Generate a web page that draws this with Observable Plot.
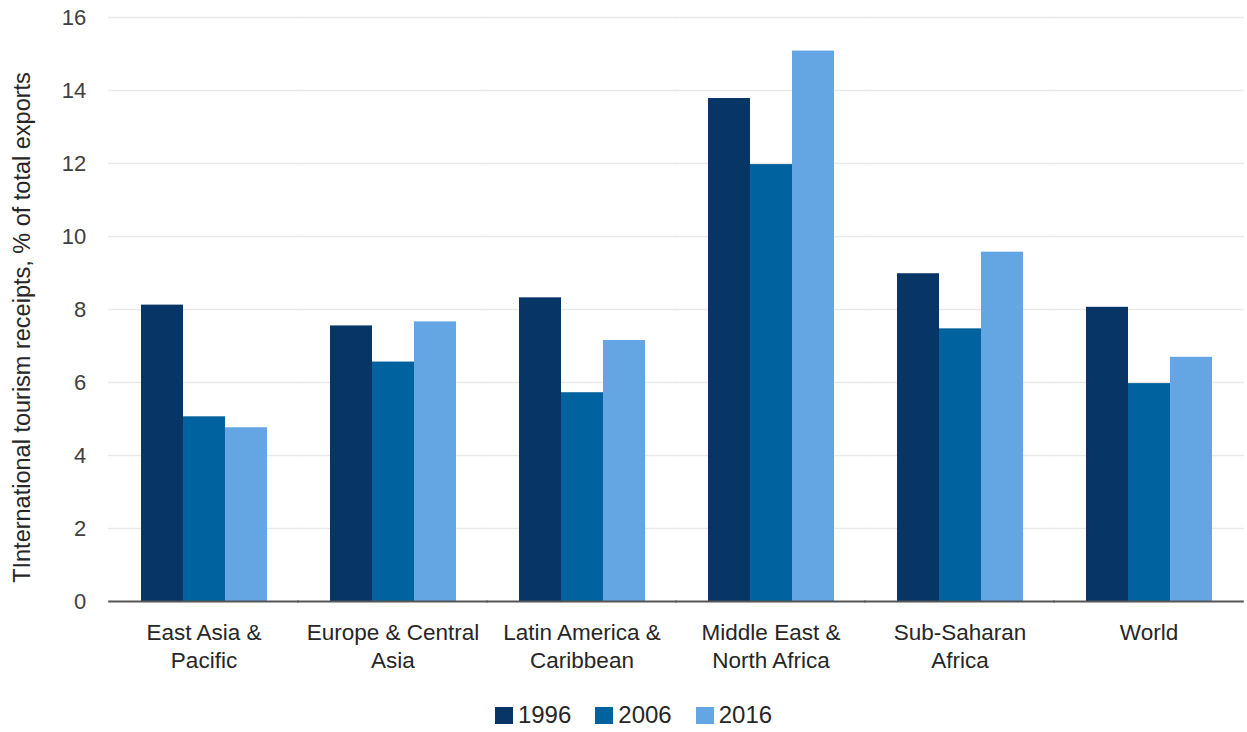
<!DOCTYPE html>
<html>
<head>
<meta charset="utf-8">
<script src="https://cdn.jsdelivr.net/npm/d3@7"></script>
<script src="https://cdn.jsdelivr.net/npm/@observablehq/plot@0.6"></script>
<style>
  html, body { margin: 0; padding: 0; background: #fff; }
  #chart { width: 1247px; }
  .legend { display: flex; justify-content: center; align-items: center; gap: 24px;
    font-family: "Liberation Sans", Arial, sans-serif; font-size: 24px; color: #262626;
    height: 30px; margin-left: 20px; }
  .legend .item { display: flex; align-items: center; gap: 5px; }
  .legend .sw { width: 18px; height: 17px; display: inline-block; }
</style>
</head>
<body>
<div id="chart"></div>
<script>
const regions = ["East Asia & Pacific", "Europe & Central Asia", "Latin America & Caribbean", "Middle East & North Africa", "Sub-Saharan Africa", "World"];
const regionLabels = ["East Asia &\nPacific", "Europe & Central\nAsia", "Latin America &\nCaribbean", "Middle East &\nNorth Africa", "Sub-Saharan\nAfrica", "World"];
const years = ["1996", "2006", "2016"];
const v1996 = [8.12, 7.55, 8.32, 13.78, 8.98, 8.06];
const v2006 = [5.06, 6.56, 5.72, 11.97, 7.47, 5.97];
const v2016 = [4.76, 7.66, 7.15, 15.08, 9.57, 6.69];
const yTicks = [0, 2, 4, 6, 8, 10, 12, 14, 16];
const colors = ["#073565", "#00629e", "#64a5e4"];
const yTitle = "TInternational tourism receipts, % of total exports";

const series = [v1996, v2006, v2016];
const data = [];
regions.forEach((r, i) => years.forEach((y, j) => data.push({region: r, year: y, value: series[j][i]})));

const font = "'Liberation Sans', Arial, sans-serif";
const W = 1247, ML = 107, MR = 2;
const padIn = 0.33;
const step = (W - ML - MR) / regions.length;
const halfGap = padIn * step / 2; // outer padding = half the inner gap, so bands + half gaps tile the frame

const chart = Plot.plot({
  width: W,
  height: 700,
  marginLeft: ML,
  marginRight: MR,
  marginTop: 17,
  marginBottom: 99,
  style: {fontFamily: font, background: "#fff"},
  fx: {domain: regions, paddingInner: padIn, paddingOuter: padIn / 2, label: null},
  x: {domain: years, padding: 0, axis: null},
  y: {domain: [0, 16], label: null},
  color: {domain: years, range: colors},
  marks: [
    Plot.ruleY(yTicks.slice(1), {stroke: "#e9e9e9", strokeWidth: 1.5, insetLeft: -halfGap - 0.5, insetRight: -halfGap - 0.5}),
    Plot.barY(data, {fx: "region", x: "year", y: "value", fill: "year"}),
    Plot.ruleY([0], {stroke: "#555", strokeWidth: 2, insetLeft: -halfGap - 0.5, insetRight: -halfGap - 0.5}),
    Plot.axisY({ticks: yTicks, tickSize: 0, tickPadding: 23 + halfGap, fontSize: 22, fill: "#404040", label: null, tickFormat: d => String(d)}),
    Plot.axisFx({anchor: "bottom", tickSize: 0, tickPadding: 18, fontSize: 22.5, lineHeight: 1.27, fill: "#262626", label: null,
      tickFormat: d => regionLabels[regions.indexOf(d)]}),
    Plot.text([yTitle], {facet: "super", frameAnchor: "left", textAnchor: "middle", lineAnchor: "middle", rotate: -90, dx: -118, dy: 18, fontSize: 23.5, fill: "#262626", text: d => d})
  ]
});
document.getElementById("chart").appendChild(chart);

const legend = document.createElement("div");
legend.className = "legend";
years.forEach((y, j) => {
  const it = document.createElement("span");
  it.className = "item";
  const sw = document.createElement("span");
  sw.className = "sw";
  sw.style.background = colors[j];
  const t = document.createElement("span");
  t.textContent = y;
  it.appendChild(sw); it.appendChild(t);
  legend.appendChild(it);
});
document.getElementById("chart").appendChild(legend);
</script>
</body>
</html>
